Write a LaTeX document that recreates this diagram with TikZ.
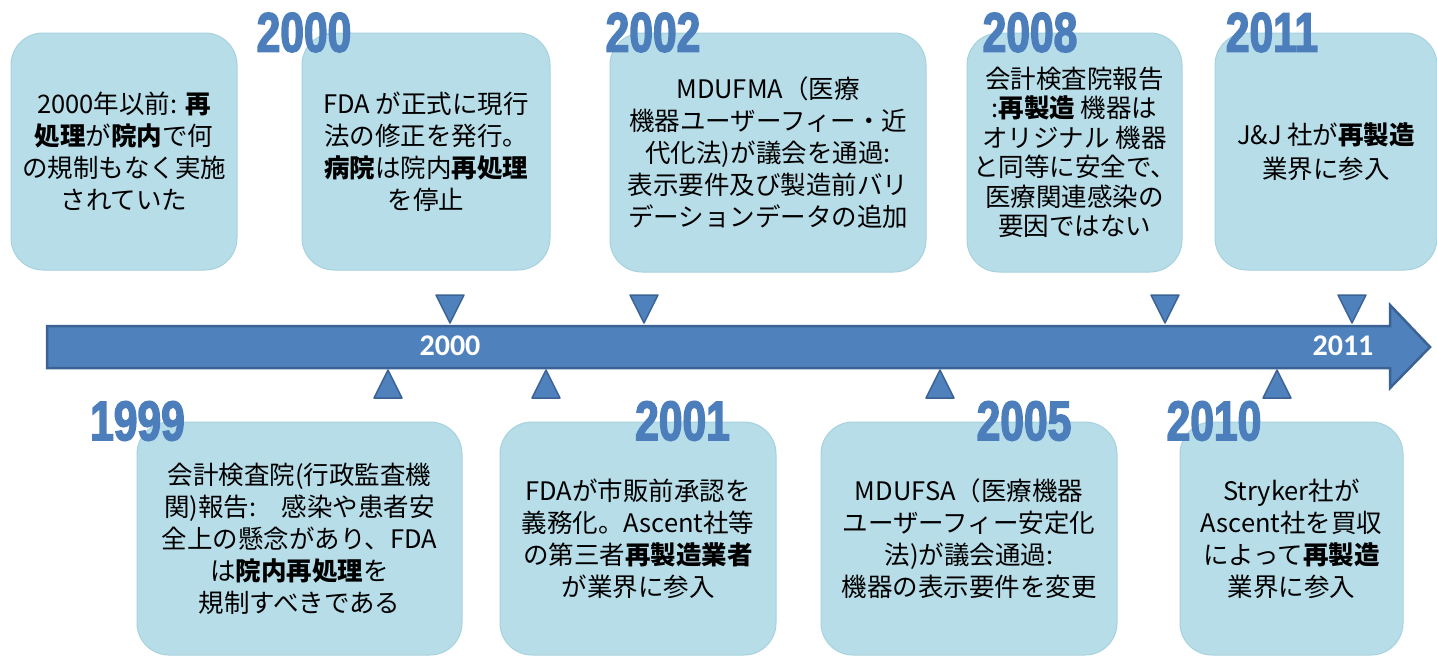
\documentclass[tikz,border=0pt]{standalone}
\usepackage{fontspec}
\setmainfont{Noto Sans CJK JP}
\newfontfamily\yearfont{Liberation Sans}[FakeStretch=0.76, BoldFeatures={FakeBold=2.5}]
\newfontfamily\barfont{Carlito}
\usetikzlibrary{positioning}
\definecolor{barblue}{HTML}{4F81BD}
\definecolor{barline}{HTML}{3A6294}
\definecolor{boxblue}{HTML}{B7DDE8}
\definecolor{boxedge}{HTML}{A6D2DE}
\definecolor{yearblue}{HTML}{4C7EBB}

\begin{document}
\begin{tikzpicture}[x=1pt, y=-1pt]
    \tikzstyle{event}=[rounded corners=32pt, fill=boxblue, draw=boxedge, line width=1pt, align=center, inner sep=0pt, font=\fontsize{25.5}{32}\selectfont]
    \tikzstyle{year}=[text=yearblue, inner sep=0pt, font=\yearfont\bfseries\fontsize{56}{56}\selectfont]
    \tikzstyle{pointer}=[fill=barblue, draw=barline, line width=1.5pt, line join=round]
    \tikzstyle{barlabel}=[text=white, inner sep=0pt, font=\barfont\bfseries\fontsize{30}{30}\selectfont]

    \useasboundingbox (0,0) rectangle (1437,657);

    % timeline arrow
    \draw[fill=barblue, draw=barline, line width=2.5pt, line join=miter]
        (47,326) -- (1390,326) -- (1390,305) -- (1430,347) -- (1390,388) -- (1390,368) -- (47,368) -- cycle;
    \node[barlabel] (bar2000) at (450,346) {2000};
    \node[barlabel] (bar2011) at (1343,346) {2011};

    \foreach \tx in {450,644,1165,1352}
        \draw[pointer] (\tx-14,295) -- (\tx+14,295) -- (\tx,323) -- cycle;
    \foreach \tx in {388,546,940,1277}
        \draw[pointer] (\tx,370) -- (\tx+14,398) -- (\tx-14,398) -- cycle;

    % upper events
    \node[event, minimum width=226pt, minimum height=237pt] (pre2000) at (124,151.5)
        {2000年以前: \textbf{再}\\\textbf{処理}が\textbf{院内}で何\\の規制もなく実施\\されていた};
    \node[event, minimum width=248pt, minimum height=237pt] (ev2000) at (426,151.5)
        {FDA が正式に現行\\法の修正を発行。\\\textbf{病院}は院内\textbf{再処理}\\を停止};
    \node[event, minimum width=316pt, minimum height=239pt] (ev2002) at (768,152.5)
        {MDUFMA（医療\\機器ユーザーフィー・近\\代化法)が議会を通過:\\表示要件及び製造前バリ\\デーションデータの追加};
    \node[event, minimum width=215pt, minimum height=239pt, font=\fontsize{25.5}{29.5}\selectfont] (ev2008) at (1074.5,152.5)
        {会計検査院報告\\:\textbf{再製造} 機器は\\オリジナル 機器\\と同等に安全で、\\医療関連感染の\\要因ではない};
    \node[event, minimum width=222pt, minimum height=237pt, font=\fontsize{25.5}{34}\selectfont] (ev2011) at (1326,151.5)
        {J\&J 社が\textbf{再製造}\\業界に参入};

    % lower events
    \node[event, minimum width=325pt, minimum height=233pt] (ev1999) at (299.5,538.5)
        {会計検査院(行政監査機\\関)報告:\quad 感染や患者安\\全上の懸念があり、FDA\\は\textbf{院内再処理}を\\規制すべきである};
    \node[event, minimum width=276pt, minimum height=233pt] (ev2001) at (638,538.5)
        {FDAが市販前承認を\\義務化。Ascent社等\\の第三者\textbf{再製造業者}\\が業界に参入};
    \node[event, minimum width=296pt, minimum height=233pt] (ev2005) at (969,538.5)
        {MDUFSA（医療機器\\ユーザーフィー安定化\\法)が議会通過:\\機器の表示要件を変更};
    \node[event, minimum width=223pt, minimum height=233pt] (ev2010) at (1291.5,538.5)
        {Stryker社が\\Ascent社を買収\\によって\textbf{再製造}\\業界に参入};

    % year headings
    \node[year] (y2000) at (304,32.5) {2000};
    \node[year] (y2002) at (653,32.5) {2002};
    \node[year] (y2008) at (1030,32.5) {2008};
    \node[year] (y2011) at (1272,32.5) {2011};
    \node[year] (y1999) at (137.5,421) {1999};
    \node[year] (y2001) at (682.5,421) {2001};
    \node[year] (y2005) at (1024,421) {2005};
    \node[year] (y2010) at (1214,421) {2010};
\end{tikzpicture}
\end{document}
